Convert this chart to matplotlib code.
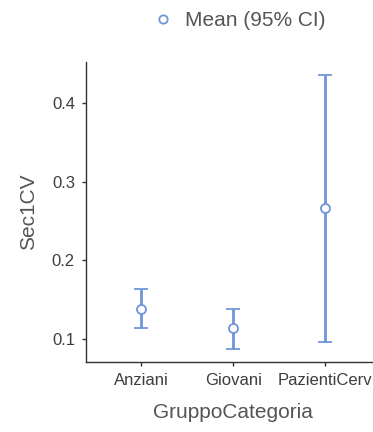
import numpy as np
import matplotlib.pyplot as plt
from matplotlib.lines import Line2D

plt.rcParams["font.family"] = ["Liberation Sans", "DejaVu Sans"]

# --- data ---
groups = ["Anziani", "Giovani", "PazientiCerv"]
means = [0.138, 0.114, 0.266]
ci_low = [0.114, 0.087, 0.096]
ci_high = [0.164, 0.138, 0.436]
y_ticks = [0.1, 0.2, 0.3, 0.4]

blue = "#6F95D8"
txt = "#555555"

fig = plt.figure(figsize=(3.73, 4.32), dpi=100)
ax = fig.add_axes([0.2306, 0.162, 0.79, 0.694])

x = np.arange(1, len(groups) + 1)
m = np.array(means)
yerr = [m - np.array(ci_low), np.array(ci_high) - m]
ax.errorbar(x, m, yerr=yerr, fmt="o", color=blue, ecolor=blue, elinewidth=2,
            capsize=5, capthick=2, markersize=6.5, markerfacecolor="white",
            markeredgecolor=blue, markeredgewidth=1.3, zorder=3)

ax.set_xlim(0.4, 3.6)
ax.set_ylim(0.0707, 0.452)
ax.set_xticks(x)
ax.set_xticklabels(groups)
ax.set_yticks(y_ticks)
ax.set_yticklabels([f"{v:.1f}" for v in y_ticks])

for s in ["top", "right"]:
    ax.spines[s].set_visible(False)
for s in ["left", "bottom"]:
    ax.spines[s].set_color("#333333")
    ax.spines[s].set_linewidth(1.0)

ax.tick_params(axis="both", length=3, width=1, color="#333333",
               labelsize=12, labelcolor="#3d3d3d", pad=5)

ax.set_ylabel("Sec1CV", fontsize=15, color=txt, labelpad=10)
ax.set_xlabel("GruppoCategoria", fontsize=15, color=txt, labelpad=11)

handle = Line2D([], [], linestyle="none", marker="o", markersize=6,
                markerfacecolor="white", markeredgecolor=blue, markeredgewidth=1.3)
fig.legend([handle], ["Mean (95% CI)"], loc="center", bbox_to_anchor=(0.638, 0.953),
           frameon=False, fontsize=15, labelcolor=txt, handletextpad=0.5,
           handlelength=1.2)

fig.savefig("out.png", dpi=100)
